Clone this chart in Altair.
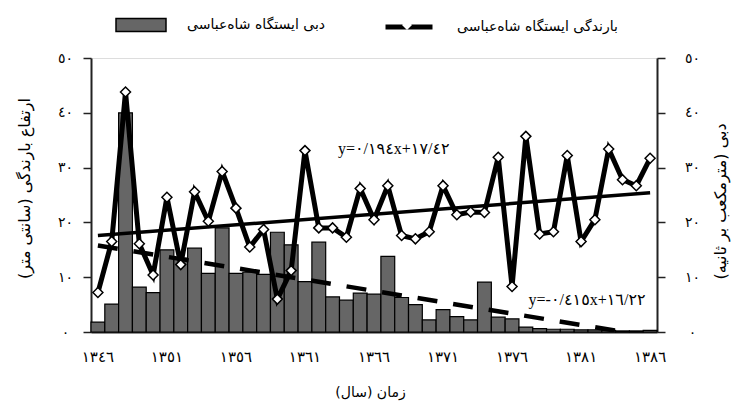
import json
import altair as alt
import pandas as pd

# ---------------- data ----------------
years = list(range(1346, 1387))
discharge = [1.8, 5.1, 40.0, 8.2, 7.2, 15.0, 13.5, 15.3, 10.7, 19.0,
             10.7, 10.9, 10.5, 18.2, 15.9, 9.2, 16.4, 6.4, 5.8, 7.1,
             6.9, 13.8, 6.3, 5.0, 2.2, 4.1, 2.8, 2.2, 9.1, 2.7,
             2.4, 0.9, 0.6, 0.5, 0.5, 0.4, 0.4, 0.3, 0.2, 0.2, 0.3]
rainfall = [7.2, 16.5, 43.8, 16.1, 10.4, 24.6, 12.3, 25.6, 20.2, 29.3,
            22.6, 15.5, 18.7, 6.0, 11.2, 33.1, 19.0, 19.0, 17.3, 26.2,
            20.5, 26.7, 17.6, 17.0, 18.3, 26.7, 21.4, 21.9, 21.8, 31.9,
            8.3, 35.7, 17.9, 18.3, 32.2, 16.5, 20.5, 33.4, 27.8, 26.7, 31.7]
rain_trend_years = [1346, 1386]
rain_trend = [17.6, 25.4]
dis_trend_years = [1346, 1386]
dis_trend = [15.8, -0.8]
x_tick_years = [1346, 1351, 1356, 1361, 1366, 1371, 1376, 1381, 1386]
y_ticks = [0, 10, 20, 30, 40, 50]
eq_texts = ["y=٠/١٩٤x+١٧/٤٢", "y=-٠/٤١٥x+١٦/٢٢"]
eq_years = [1367, 1381]
eq_values = [33.4, 5.8]

bar_name = "دبی ایستگاه شاه\u200cعباسی"
line_name = "بارندگی ایستگاه شاه\u200cعباسی"
left_title = "ارتفاع بارندگی (سانتی متر)\u200f"
right_title = "دبی (مترمکعب بر ثانیه)\u200f"
x_title = "زمان (سال)\u200f"

# ---------------- helpers ----------------
FA = str.maketrans("0123456789", "٠١٢٣٤٥٦٧٨٩")
def fa(n):
    return str(n).translate(FA)

year_lbl = [fa(y) for y in years]
y_lbls = json.dumps([fa(v) for v in y_ticks], ensure_ascii=False)

df_bar = pd.DataFrame({"year": year_lbl, "v": discharge, "s": bar_name})
df_rain = pd.DataFrame({"year": year_lbl, "v": rainfall, "s": line_name})
df_rt = pd.DataFrame({"year": [fa(y) for y in rain_trend_years], "v": rain_trend})
df_dt = pd.DataFrame({"year": [fa(y) for y in dis_trend_years], "v": dis_trend})
df_eq = pd.DataFrame({"year": [fa(y) for y in eq_years], "v": eq_values, "t": eq_texts})

FONT = "DejaVu Sans"

xscale = alt.Scale(type="band", domain=year_lbl, paddingInner=0, paddingOuter=0)
xaxis = alt.Axis(values=[fa(y) for y in x_tick_years], labelAngle=0, ticks=False,
                 labelFont=FONT, labelFontSize=15, labelColor="black", labelPadding=17,
                 labelBaseline="top",
                 domainColor="#222", domainWidth=2, grid=False,
                 title=x_title, titleFont=FONT, titleFontSize=14, titleFontWeight="normal",
                 titleColor="black", titleX=279, titleY=60, titleAlign="center",
                 titleBaseline="middle")
X = alt.X("year:O", scale=xscale, axis=xaxis, sort=None)

yscale_l = alt.Scale(domain=[0, 50], nice=False, zero=True)
yscale_r = alt.Scale(domain=[0, 50], nice=False, zero=True)

def yaxis(orient, title, lp, tx, ty):
    return alt.Axis(orient=orient, values=y_ticks, labelExpr=f"{y_lbls}[datum.value/10]",
                    labelAlign="center", labelBaseline="middle", labelPadding=lp,
                    labelFont=FONT, labelFontSize=14, labelColor="black",
                    tickSize=8, tickColor="#222", tickWidth=1.5,
                    domainColor="#222", domainWidth=2, grid=False,
                    title=title, titleFont=FONT, titleFontSize=16, titleFontWeight="normal",
                    titleColor="black", titleAngle=270, titleX=tx, titleY=ty,
                    titleAlign="center", titleBaseline="middle")

YL = alt.Y("v:Q", scale=yscale_l, axis=yaxis("left", left_title, 18, -67, 130))
YR = alt.Y("v:Q", scale=yscale_r, axis=yaxis("right", right_title, 27, 63, 143))

bars = alt.Chart(df_bar).mark_bar(stroke="black", strokeWidth=1.2, opacity=1).encode(
    x=X, y=YR,
    fill=alt.Fill("s:N", scale=alt.Scale(range=["#666666"]),
                  legend=alt.Legend(title=None, orient="none", legendX=24, legendY=-59,
                                    symbolType="M-1,-0.26L1,-0.26L1,0.26L-1,0.26Z",
                                    symbolSize=2500, symbolStrokeColor="black",
                                    symbolStrokeWidth=1.5, symbolFillColor="#666666",
                                    symbolOpacity=1, labelLimit=0,
                                    labelFont=FONT, labelFontSize=14, labelColor="black",
                                    labelOffset=20)),
)
dis_tr = alt.Chart(df_dt).mark_line(color="black", strokeWidth=4.5, strokeDash=[20, 16],
                                    clip=True).encode(x=X, y=YR)
bars_group = alt.layer(bars, dis_tr)

rain_tr = alt.Chart(df_rt).mark_line(color="black", strokeWidth=3.5).encode(x=X, y=YL)
rain_line = alt.Chart(df_rain).mark_line(strokeWidth=5).encode(
    x=X, y=YL,
    stroke=alt.Stroke("s:N", scale=alt.Scale(range=["black"]),
                      legend=alt.Legend(title=None, orient="none", legendX=292, legendY=-57,
                                        symbolType="M-1,0L1,0", symbolSize=2209,
                                        symbolStrokeWidth=5, symbolStrokeColor="black",
                                        symbolDash=[1, 0], labelLimit=0,
                                        labelFont=FONT, labelFontSize=14, labelColor="black",
                                        labelOffset=22)),
)
rain_pts = alt.Chart(df_rain).mark_point(filled=True, fill="white", stroke="black",
                                         strokeWidth=1.5, size=100, opacity=1).encode(
    x=X, y=YL,
    shape=alt.Shape("s:N", scale=alt.Scale(range=["diamond"]),
                    legend=alt.Legend(title=None, orient="none", legendX=310, legendY=-39,
                                      symbolSize=100, symbolFillColor="white",
                                      symbolStrokeColor="black", symbolStrokeWidth=1.5,
                                      symbolOpacity=1, labelExpr="''")),
)
eqs = alt.Chart(df_eq).mark_text(font="Liberation Serif, DejaVu Sans", fontSize=16,
                                 color="black", dx=6).encode(x=X, y=YL, text="t:N")
rain_group = alt.layer(rain_tr, rain_line, rain_pts, eqs)

chart = alt.layer(bars_group, rain_group).resolve_scale(y="independent").properties(
    width=566, height=274,
    autosize=alt.AutoSizeParams(type="none"),
    padding={"left": 83, "top": 50, "right": 75, "bottom": 70},
).configure_view(stroke=None).configure(background="white")

chart.save("out.html", embed_options={"renderer": "svg", "actions": False})
